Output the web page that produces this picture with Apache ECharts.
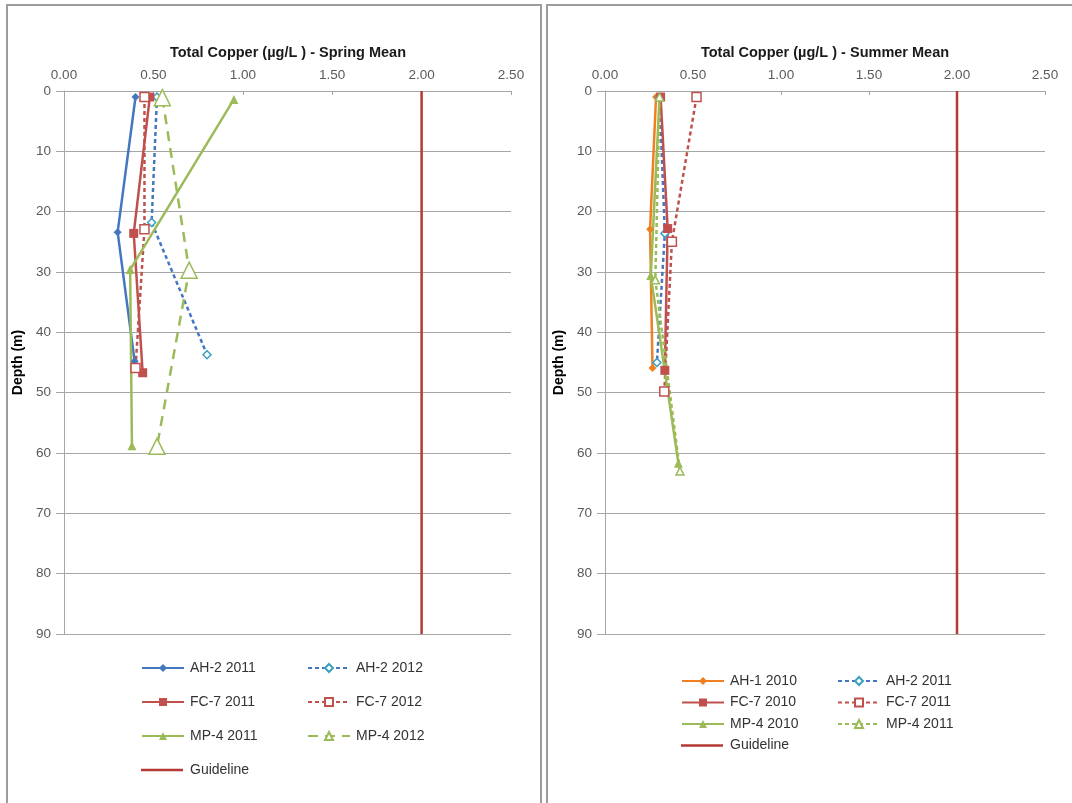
<!DOCTYPE html>
<html><head><meta charset="utf-8">
<script src="https://cdn.jsdelivr.net/npm/echarts@6/dist/echarts.min.js"></script>
<style>
body{margin:0;background:#fff;}
#wrap{position:relative;width:1072px;height:803px;overflow:hidden;background:#fff;}
.panel{position:absolute;border:2px solid #9c9c9c;box-sizing:border-box;}
#c1{position:absolute;left:0;top:0;width:544px;height:803px;}
#c2{position:absolute;left:544px;top:0;width:528px;height:803px;}
</style></head><body>
<div id="wrap">
<div class="panel" style="left:6px;top:4px;width:536px;height:830px"></div>
<div class="panel" style="left:546px;top:4px;width:540px;height:830px"></div>
<div id="c1"></div><div id="c2"></div>
</div>
<script>
// ---- axis ticks ----
const xTickValues = [0, 0.5, 1, 1.5, 2, 2.5];
const depthTicks = [0, 10, 20, 30, 40, 50, 60, 70, 80, 90];
const guidelineConc = [2.0, 2.0];
const guidelineDepth = [0, 90];

// ---- Spring Mean (left) ----
const springAH2_2011_conc  = [0.40, 0.30, 0.395];
const springAH2_2011_depth = [1, 23.4, 44.8];
const springAH2_2012_conc  = [0.52, 0.49, 0.80];
const springAH2_2012_depth = [1, 21.8, 43.7];
const springFC7_2011_conc  = [0.48, 0.39, 0.44];
const springFC7_2011_depth = [1, 23.6, 46.7];
const springFC7_2012_conc  = [0.45, 0.45, 0.40];
const springFC7_2012_depth = [1, 22.9, 45.9];
const springMP4_2011_conc  = [0.95, 0.37, 0.38];
const springMP4_2011_depth = [1.4, 29.6, 58.8];
const springMP4_2012_conc  = [0.55, 0.70, 0.52];
const springMP4_2012_depth = [1.1, 29.7, 58.9];

// ---- Summer Mean (right) ----
const summerAH1_2010_conc  = [0.29, 0.256, 0.27];
const summerAH1_2010_depth = [1, 22.9, 45.9];
const summerAH2_2011_conc  = [0.31, 0.34, 0.295];
const summerAH2_2011_depth = [1, 23.6, 45.0];
const summerFC7_2010_conc  = [0.316, 0.356, 0.34];
const summerFC7_2010_depth = [1, 22.8, 46.3];
const summerFC7_2011_conc  = [0.52, 0.38, 0.337];
const summerFC7_2011_depth = [1, 25.0, 49.8];
const summerMP4_2010_conc  = [0.31, 0.26, 0.417];
const summerMP4_2010_depth = [1, 30.6, 61.7];
const summerMP4_2011_conc  = [0.31, 0.286, 0.426];
const summerMP4_2011_depth = [1, 31.3, 63.0];

const FONT = 'Liberation Sans';
const C = {blue:'#4577c0', teal:'#3b9fc1', red:'#c0504d', green:'#9bbb59', orange:'#f07f22', guide:'#b53a37'};

function pairs(conc, depth){ return conc.map((c,i)=>[c, depth[i]]); }
function ser(name, conc, depth, o){
  const open = !!o.open;
  return {
    type:'line', name, data: pairs(conc, depth),
    symbol: o.symbol || 'none', symbolSize: o.size || 8, showSymbol: o.symbol ? true : false,
    lineStyle:{color:o.color, width:2.5, type:o.dash || 'solid'},
    itemStyle: open ? {color:'#fff', borderColor:o.mcolor || o.color, borderWidth:1.5} : {color:o.color, borderColor:o.color, borderWidth:0},
    emphasis:{disabled:true}, animation:false, z: o.z || 2
  };
}
function baseOption(title, gridLeft, gridRight, titleX){
  return {
    backgroundColor:'transparent',
    animation:false,
    title:{text:title, left:titleX, top:45, textAlign:'center', padding:0,
      textStyle:{fontFamily:FONT, fontSize:14.5, fontWeight:'bold', color:'#1a1a1a'}},
    grid:{left:gridLeft, right:gridRight, top:91, bottom:169, containLabel:false},
    xAxis:{type:'value', position:'top', min:0, max:2.5, interval:0.5,
      axisLine:{show:true, onZero:false, lineStyle:{color:'#a6a6a6', width:1}},
      axisTick:{show:true, inside:true, length:4, lineStyle:{color:'#a6a6a6'}},
      axisLabel:{formatter:v=>v.toFixed(2), margin:9, fontFamily:FONT, fontSize:13.5, color:'#595959'},
      splitLine:{show:false}},
    yAxis:{type:'value', inverse:true, min:0, max:90, interval:10,
      name:'Depth (m)', nameLocation:'middle', nameGap:33,
      nameTextStyle:{fontFamily:FONT, fontSize:14, fontWeight:'bold', color:'#000'},
      axisLine:{show:true, onZero:false, lineStyle:{color:'#a6a6a6', width:1}},
      axisTick:{show:true, inside:false, length:8, lineStyle:{color:'#a6a6a6'}},
      axisLabel:{margin:13, fontFamily:FONT, fontSize:13.5, color:'#595959'},
      splitLine:{show:true, lineStyle:{color:'#a6a6a6', width:1}}},
  };
}
function legend(names, left, top, gap){
  return {data:names, orient:'vertical', left, top, itemWidth:42, itemHeight:10, itemGap:gap,
    padding:0, selectedMode:false,
    textStyle:{fontFamily:FONT, fontSize:14, color:'#333', lineHeight:16, padding:[0,0,0,1]}};
}
function guideLegend(left, top){
  return {data:[{name:'Guideline', icon:'rect'}], orient:'vertical', left, top, itemWidth:42, itemHeight:2.5,
    padding:0, selectedMode:false,
    textStyle:{fontFamily:FONT, fontSize:14, color:'#333', lineHeight:16, padding:[0,0,0,2]}};
}

// ---- Left chart ----
const c1 = echarts.init(document.getElementById('c1'), null, {renderer:'canvas'});
const o1 = baseOption('Total Copper (µg/L ) - Spring Mean', 64, 33, 288);
o1.series = [
  ser('Guideline', guidelineConc, guidelineDepth, {color:C.guide, z:1}),
  ser('AH-2 2011', springAH2_2011_conc, springAH2_2011_depth, {color:C.blue, symbol:'diamond', size:8}),
  ser('AH-2 2012', springAH2_2012_conc, springAH2_2012_depth, {color:C.blue, dash:[4,3], symbol:'diamond', size:8, open:true, mcolor:C.teal}),
  ser('FC-7 2011', springFC7_2011_conc, springFC7_2011_depth, {color:C.red, symbol:'rect', size:9}),
  ser('FC-7 2012', springFC7_2012_conc, springFC7_2012_depth, {color:C.red, dash:[4,3], symbol:'rect', size:9, open:true}),
  ser('MP-4 2011', springMP4_2011_conc, springMP4_2011_depth, {color:C.green, symbol:'triangle', size:9}),
  ser('MP-4 2012', springMP4_2012_conc, springMP4_2012_depth, {color:C.green, dash:[10,7], symbol:'triangle', size:16, open:true}),
];
o1.legend = [
  legend(['AH-2 2011','FC-7 2011','MP-4 2011'], 141, 660, 18),
  legend(['AH-2 2012','FC-7 2012','MP-4 2012'], 307, 660, 18),
  guideLegend(141, 762)
];
c1.setOption(o1);

// ---- Right chart ----
const c2 = echarts.init(document.getElementById('c2'), null, {renderer:'canvas'});
const o2 = baseOption('Total Copper (µg/L ) - Summer Mean', 61, 27, 281);
o2.series = [
  ser('Guideline', guidelineConc, guidelineDepth, {color:C.guide, z:1}),
  ser('AH-1 2010', summerAH1_2010_conc, summerAH1_2010_depth, {color:C.orange, symbol:'diamond', size:8}),
  ser('AH-2 2011', summerAH2_2011_conc, summerAH2_2011_depth, {color:C.blue, dash:[4,3], symbol:'diamond', size:8, open:true, mcolor:C.teal}),
  ser('FC-7 2010', summerFC7_2010_conc, summerFC7_2010_depth, {color:C.red, symbol:'rect', size:9}),
  ser('FC-7 2011', summerFC7_2011_conc, summerFC7_2011_depth, {color:C.red, dash:[4,3], symbol:'rect', size:9, open:true}),
  ser('MP-4 2010', summerMP4_2010_conc, summerMP4_2010_depth, {color:C.green, symbol:'triangle', size:9}),
  ser('MP-4 2011', summerMP4_2011_conc, summerMP4_2011_depth, {color:C.green, dash:[4,3], symbol:'triangle', size:8, open:true}),
];
o2.legend = [
  legend(['AH-1 2010','FC-7 2010','MP-4 2010'], 137, 673, 5.5),
  legend(['AH-2 2011','FC-7 2011','MP-4 2011'], 293, 673, 5.5),
  guideLegend(137, 737.5)
];
c2.setOption(o2);
</script>
</body></html>
